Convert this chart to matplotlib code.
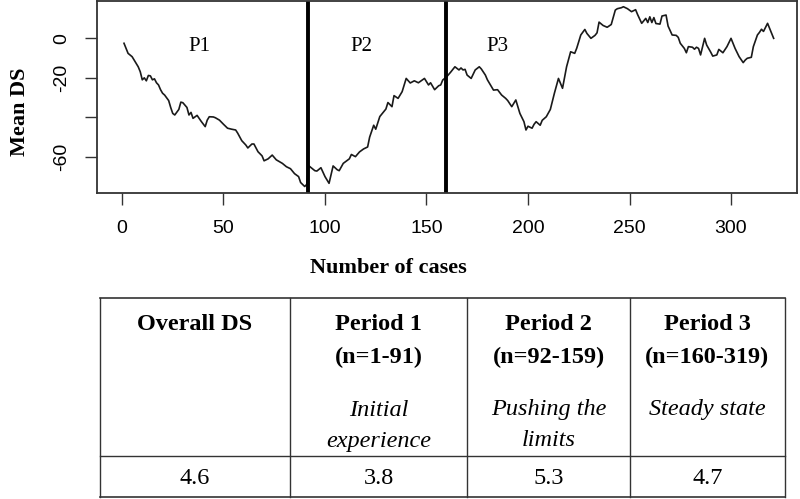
import matplotlib.pyplot as plt

# mean DS
cases = [1, 3, 5, 8, 9, 10, 11, 12, 13, 14, 15, 16, 17, 18, 19, 20, 21, 23, 24, 25, 26, 28, 29, 30, 32, 33, 34, 35,
         37, 39, 41, 42, 43, 45, 46, 48, 50, 52, 54, 56, 57, 59, 61, 62, 64, 65, 67, 69, 70, 72, 74, 76, 79, 81,
         83, 85, 87, 88, 90, 91,
         92, 95, 96, 98, 100, 102, 104, 106, 107, 109, 112, 113, 115, 117, 119, 121, 122, 124, 125, 127, 130, 131,
         133, 134, 136, 138, 140, 142, 144, 146, 148, 149, 151, 152, 154, 156, 157, 158,
         160, 162, 164, 166, 167, 168, 169, 170, 172, 174, 176, 177, 179, 180, 182, 183, 185, 187, 189, 190, 192,
         194, 196, 198, 199, 200, 202, 203, 204, 206, 207, 209, 211, 212, 213, 215, 217, 219, 221, 223, 224, 226,
         228, 229, 231, 233, 234, 235, 237, 239, 241, 243, 244, 246, 247, 249, 251, 253, 254, 256, 258, 259, 260,
         261, 262, 263, 265, 266, 268, 269, 271, 273, 274, 275, 277, 278, 279, 281, 282, 283, 284, 285, 287, 288,
         290, 291, 293, 294, 296, 298, 300, 302, 304, 306, 307, 308, 310, 311, 313, 314, 315, 316, 317, 318, 320,
         321]
mean_ds = [-2.5, -7.6, -9.3, -14.4, -16.9, -21, -20, -21.5, -18.8, -19, -21, -20.5, -22.5, -23.6, -26, -27.8,
           -28.7, -31.5, -35, -38, -38.8, -36, -32.3, -32.6, -35, -38.8, -37.5, -40.5, -39, -42, -44.7, -41.4,
           -39.7, -39.8, -40.2, -41.4, -43.5, -45.5, -46, -46.4, -48, -51.8, -54, -55.5, -53.5, -53.5, -57.4,
           -59.5, -62, -61, -59.1, -61.5, -63.3, -65, -66, -68.5, -70, -73, -75, -74,
           -64.5, -67, -67.2, -65.5, -70, -73.4, -64.6, -66.5, -67, -63.3, -61, -58.8, -59.9, -57.5, -56, -55,
           -50, -44, -46, -39.6, -35.8, -32.5, -34.6, -29, -30.4, -27, -20.3, -22.6, -21.5, -22.5, -21, -20.3,
           -23.6, -22.5, -26, -24, -23.6, -21.1,
           -19.4, -17, -14.4, -16, -15, -16, -15.7, -18.6, -20.3, -16, -14.4, -15.5, -18.6, -21, -24.5, -26.2,
           -26, -28.7, -30.4, -31.5, -34.6, -31.2, -38, -42.2, -46.4, -44.5, -45.5, -43.5, -42.2, -44, -41.5,
           -39.7, -36, -32, -27.8, -20.3, -25.3, -14.4, -6.8, -7.6, -5, 1.7, 4.5, 2.5, 0, 1.5, 2.8, 8.2, 6.5,
           5.6, 7, 14.3, 15, 15.5, 16, 15, 13.5, 14.5, 12, 7.6, 10.1, 8, 10.9, 8, 10.5, 7.5, 7.2, 11.3, 11.8, 6.2,
           1.7, 1.5, 0.5, -2.5, -5.1, -7.3, -4.2, -4.5, -5.5, -4.5, -5.1, -8.4, 0, -3.4, -7, -9, -8.4, -5.6,
           -7.3, -4.2, 0, -5.1, -9.3, -12.3, -11, -10.1, -9.6, -4.2, 1.7, 3, 4.6, 3.5, 5.6, 7.6, 2.5, 0]

period_breaks = [91.5, 159.5]
period_labels = ["P1", "P2", "P3"]
period_label_x = [38, 118, 185]

header = ["Overall DS", "Period 1", "Period 2", "Period 3"]
ranges = ["", "(n=1-91)", "(n=92-159)", "(n=160-319)"]
phase = [[], ["Initial", "experience"], ["Pushing the", "limits"], ["Steady state"]]
ds_values = [4.6, 3.8, 5.3, 4.7]

serif = "Liberation Serif"
narrow = ["Liberation Sans Narrow", "Liberation Sans"]

fig = plt.figure(figsize=(8, 4.99), dpi=100)
ax = fig.add_axes([97 / 800, 1 - 193 / 499, 700 / 800, 192 / 499])

ax.plot(cases, mean_ds, color="#1a1a1a", lw=1.2)
for b in period_breaks:
    ax.axvline(b, color="black", lw=2.8)
for lab, px in zip(period_labels, period_label_x):
    ax.text(px, -4, lab, family=serif, fontsize=15, ha="center", va="center")

ax.set_xlim(-12.3, 332.5)
ax.set_ylim(-78.3, 18.9)
ax.set_xticks([0, 50, 100, 150, 200, 250, 300])
ax.set_xticklabels(["0", "50", "100", "150", "200", "250", "300"], family=narrow, fontsize=14)
ax.set_yticks([-60, -40, -20, 0])
ax.set_yticklabels(["-60", "", "-20", "0"], family=narrow, fontsize=14, rotation=90, va="center")
ax.tick_params(length=8.5, width=1, pad=11, color="#333333")
for s in ax.spines.values():
    s.set_linewidth(1.3)
    s.set_color("#333333")

# overlay in pixel coordinates for labels and the table
ov = fig.add_axes([0, 0, 1, 1])
ov.set_xlim(0, 800)
ov.set_ylim(499, 0)
ov.axis("off")
ov.patch.set_alpha(0)

ov.text(20, 112, "Mean DS", family=serif, weight="bold", fontsize=16, rotation=90, ha="center", va="center")
ov.text(388, 268, "Number of cases", family=serif, weight="bold", fontsize=16, ha="center", va="center")

col_edges = [100, 290, 467, 630, 785]
top, mid, bot = 298, 456, 497
lc = "#333333"
ov.plot([col_edges[0], col_edges[-1]], [top, top], color=lc, lw=1.2)
ov.plot([col_edges[0], col_edges[-1]], [mid, mid], color=lc, lw=1.0)
ov.plot([col_edges[0], col_edges[-1]], [bot, bot], color=lc, lw=1.2)
for xe in col_edges:
    ov.plot([xe, xe], [top, bot], color=lc, lw=1.0)

for i in range(4):
    cx = (col_edges[i] + col_edges[i + 1]) / 2
    ov.text(cx, 325, header[i], family=serif, weight="bold", fontsize=17.5, ha="center", va="center")
    if ranges[i]:
        ov.text(cx, 357, ranges[i], family=serif, weight="bold", fontsize=17.5, ha="center", va="center")
    for j, line in enumerate(phase[i]):
        ov.text(cx, 410 + 31 * j, line, family=serif, style="italic", fontsize=17.5, ha="center", va="center")
    ov.text(cx, 478, f"{ds_values[i]:.1f}", family=serif, fontsize=17.5, ha="center", va="center")

plt.savefig("out.png", dpi=100)
